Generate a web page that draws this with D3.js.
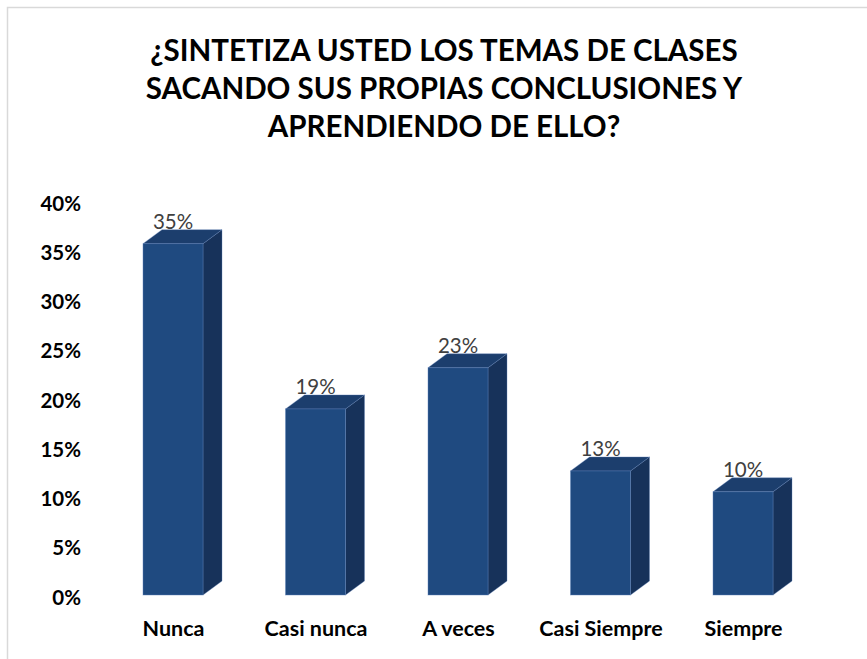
<!DOCTYPE html>
<html>
<head>
<meta charset="utf-8">
<script src="https://cdn.jsdelivr.net/npm/d3@7"></script>
<style>
  html, body { margin: 0; padding: 0; background: #fff; }
  svg { display: block; }
</style>
</head>
<body>
<svg id="chart" width="867" height="659"></svg>
<script>
const titleLines = ["¿SINTETIZA USTED LOS TEMAS DE CLASES", "SACANDO SUS PROPIAS CONCLUSIONES Y", "APRENDIENDO DE ELLO?"];
const categories = ["Nunca", "Casi nunca", "A veces", "Casi Siempre", "Siempre"];
const values = [0.354, 0.1875, 0.229, 0.125, 0.104];
const tickValues = [0, 0.05, 0.10, 0.15, 0.20, 0.25, 0.30, 0.35, 0.40];

const svg = d3.select("#chart");

// chart area border
svg.append("rect").attr("x", 7.5).attr("y", 7.5).attr("width", 880).attr("height", 670)
  .attr("fill", "#fff").attr("stroke", "#d9d9d9").attr("stroke-width", 1.5);

// title
const font = "Lato, 'Open Sans', sans-serif";
const title = svg.append("g");
titleLines.forEach((t, i) => {
  const el = title.append("text")
    .attr("x", 444).attr("y", 61 + i * 38)
    .attr("text-anchor", "middle")
    .attr("font-family", font).attr("font-weight", 700)
    .attr("font-size", 29.5).attr("fill", "#000")
    .text(t);
});

// scales
const x = d3.scalePoint().domain(categories).range([101.75, 814.25]).padding(0.5);
const y = d3.scaleLinear().domain([0, 0.4]).range([595, 198]);
const yAxisScale = d3.scaleLinear().domain([0, 0.4]).range([597, 203]);
const barW = 60, dx = 19, dy = -14;

// y axis labels
const yAxis = d3.axisLeft(yAxisScale).tickValues(tickValues).tickFormat(d3.format(".0%")).tickSize(0).tickPadding(0);
const ya = svg.append("g").attr("transform", "translate(81,0)").call(yAxis);
ya.select(".domain").remove();
ya.selectAll("text").attr("font-family", font).attr("font-weight", 700).attr("font-size", 20.5).attr("fill", "#000").attr("dy", "0.35em");

// x axis labels
const xAxis = d3.axisBottom(x).tickSize(0).tickPadding(0);
const xa = svg.append("g").attr("transform", "translate(0,628)").call(xAxis);
xa.select(".domain").remove();
xa.selectAll("text").attr("font-family", font).attr("font-weight", 700).attr("font-size", 21.5).attr("fill", "#000").attr("dy", "0.35em");

// bars
const data = categories.map((c, i) => ({ c, v: values[i] }));
const bars = svg.append("g").selectAll("g").data(data).join("g");
const edge = "#5f82b8";
bars.each(function(d) {
  const g = d3.select(this);
  const xL = x(d.c) - barW / 2, xR = xL + barW;
  const yT = y(d.v), yB = y(0);
  g.append("polygon")
    .attr("points", [[xR, yT], [xR + dx, yT + dy], [xR + dx, yB + dy], [xR, yB]].map(p => p.join(",")).join(" "))
    .attr("fill", "#17325a").attr("stroke", edge).attr("stroke-opacity", 0.45).attr("stroke-width", 0.8);
  g.append("polygon")
    .attr("points", [[xL, yT], [xL + dx, yT + dy], [xR + dx, yT + dy], [xR, yT]].map(p => p.join(",")).join(" "))
    .attr("fill", "#1c3e6d").attr("stroke", edge).attr("stroke-opacity", 0.45).attr("stroke-width", 0.8);
  g.append("rect").attr("x", xL).attr("y", yT).attr("width", barW).attr("height", yB - yT)
    .attr("fill", "#1f4a80").attr("stroke", edge).attr("stroke-opacity", 0.55).attr("stroke-width", 0.8);
  g.append("text")
    .attr("x", x(d.c)).attr("y", yT + dy - 0.5)
    .attr("text-anchor", "middle")
    .attr("font-family", font).attr("font-size", 20.5).attr("fill", "#404040")
    .text(Math.round(d.v * 100) + "%");
});
</script>
</body>
</html>
